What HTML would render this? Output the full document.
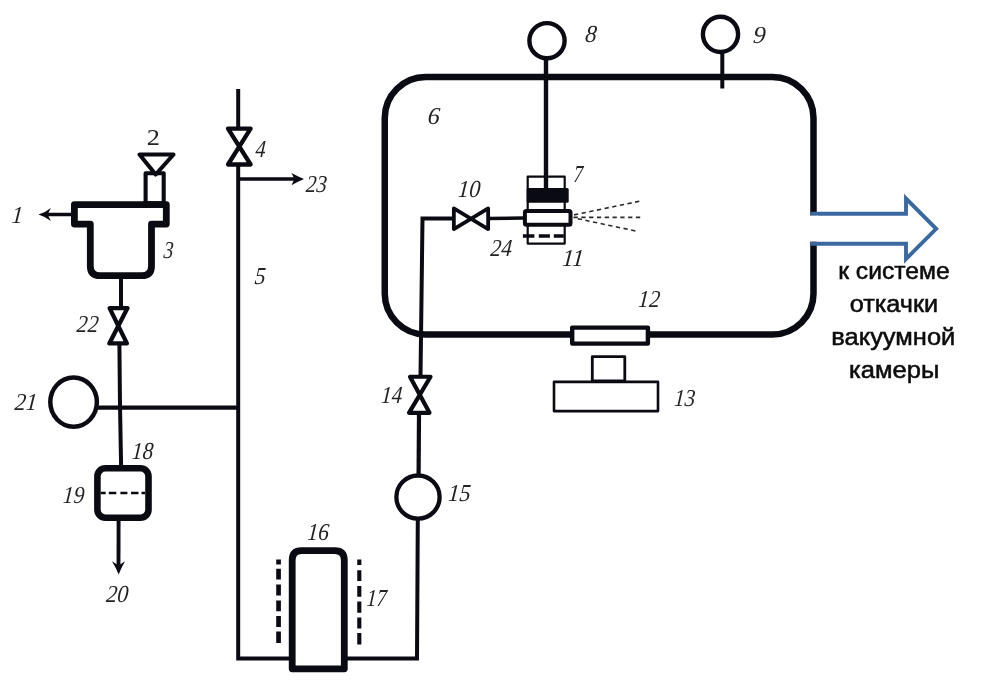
<!DOCTYPE html>
<html><head><meta charset="utf-8">
<style>
html,body{margin:0;padding:0;background:#fff;width:982px;height:694px;overflow:hidden}
svg{display:block;will-change:transform}
.l{font-family:"Liberation Serif",serif;font-style:italic;font-size:24.3px;fill:#222}
.r{font-family:"Liberation Sans",sans-serif;font-size:24.6px;fill:#0c0c0c;stroke:#0c0c0c;stroke-width:0.55px;text-anchor:middle}
</style></head>
<body>
<svg width="982" height="694" viewBox="0 0 982 694">
<g fill="none" stroke="#0a0a12" stroke-linecap="butt" stroke-linejoin="round">
  <!-- chamber -->
  <rect x="384.75" y="77" width="428.75" height="257.5" rx="41" ry="41" stroke-width="6.5"/>
  <!-- gauge 8 -->
  <circle cx="547" cy="40.7" r="17.6" stroke-width="4.4"/>
  <line x1="546" y1="58" x2="546" y2="189" stroke-width="4.4"/>
  <!-- gauge 9 -->
  <circle cx="720.5" cy="34.35" r="17.6" stroke-width="4.4"/>
  <line x1="722.3" y1="51" x2="722.3" y2="88.5" stroke-width="4"/>
  <!-- device 7/11 -->
  <rect x="527.7" y="176.6" width="37" height="67" stroke-width="2.2"/>
  <rect x="526.7" y="188" width="42" height="14.8" rx="1.5" fill="#0a0a12" stroke="none"/>
  <rect x="524.9" y="211" width="45.6" height="13.7" rx="1.5" stroke-width="4" fill="#fff"/>
  <line x1="522.9" y1="236" x2="564" y2="236" stroke-width="3.6" stroke-dasharray="11.5 4.4 11.1 3.9 10"/>
  <!-- spray -->
  <g stroke-width="1.6" stroke-dasharray="4.3 3.5" stroke="#2a2a2a">
    <line x1="574" y1="214.9" x2="640.5" y2="201"/>
    <line x1="573.5" y1="217.4" x2="642.2" y2="217.4"/>
    <line x1="574" y1="217.9" x2="638.6" y2="231.6" stroke-dashoffset="-3.8"/>
  </g>
  <!-- pipe valve10 to ring -->
  <line x1="488" y1="218.5" x2="524" y2="218" stroke-width="3.6"/>
  <!-- valve 10 -->
  <path d="M453.85 208.4 L488.15 229.1 L488.15 208.4 L453.85 229.1 Z" stroke-width="3.8"/>
  <!-- pipe from valve 10 down -->
  <path d="M453.85 218.5 H422.5 L420.5 377" stroke-width="4" stroke-linejoin="miter"/>
  <!-- valve 14 -->
  <path d="M410 376.75 H430.5 L409 412.8 H429.5 Z" stroke-width="4.2"/>
  <line x1="419" y1="412.8" x2="418.6" y2="474" stroke-width="4.2"/>
  <!-- gauge 15 -->
  <circle cx="418" cy="497.1" r="21.6" stroke-width="4.3"/>
  <!-- bottom loop -->
  <path d="M417.8 519 L417 658.6 H238.2 V164.5" stroke-width="4" stroke-linejoin="miter"/>
  <line x1="238.2" y1="89" x2="238.2" y2="128.6" stroke-width="4"/>
  <!-- tank 16 -->
  <path d="M292.2 668.8 V560 Q292.2 550.6 301.6 550.6 H334.8 Q344.3 550.6 344.3 560 V668.8 Z" stroke-width="6.8" fill="#fff" stroke-linejoin="round"/>
  <!-- dashes 17 -->
  <path d="M278.55 559.4 V564.4 M278.55 568.7 V579.5 M278.55 584.6 V595.4 M278.55 600.4 V611.2 M278.55 616 V627 M278.55 631.4 V642.9" stroke-width="4.7"/>
  <path d="M359.3 559.4 V565.1 M359.3 570.2 V581 M359.3 586 V596.8 M359.3 601.6 V612.7 M359.3 617.4 V628.5 M359.3 632.9 V644.4" stroke-width="4.1"/>
  <!-- valve 4 -->
  <path d="M228 128.65 H250.6 L228 164.5 H250.6 Z" stroke-width="4.3"/>
  <!-- arrow 23 -->
  <line x1="238" y1="179" x2="296" y2="179" stroke-width="3.7"/>
  <path d="M304 178.9 Q297.5 176.3 291.5 172.9 L294.4 178.9 L291.5 185.2 Q297.5 181.6 304 178.9 Z" fill="#0a0a12" stroke="none"/>
  <!-- gauge 21 + pipe -->
  <ellipse cx="73.6" cy="402.1" rx="23.3" ry="24.6" stroke-width="4.5"/>
  <line x1="97" y1="407.7" x2="238" y2="407.7" stroke-width="4.2"/>
  <!-- pipe 22 line -->
  <path d="M121 278 V308" stroke-width="4"/>
  <path d="M109.6 308.1 H127.5 L109.3 343.4 H126.9 Z" stroke-width="4.3"/>
  <path d="M119.4 343.4 L120 405 L121.1 466" stroke-width="4"/>
  <!-- filter 19 -->
  <rect x="97.4" y="468.2" width="51.1" height="49.5" rx="8" stroke-width="6.6" fill="#fff"/>
  <line x1="100.7" y1="493" x2="145" y2="493" stroke-width="2.5" stroke-dasharray="5 3.1 7.5 4.1 7 3.6 7.5 3 3.5"/>
  <line x1="118.6" y1="520" x2="118.5" y2="566" stroke-width="3.9"/>
  <path d="M118.7 574.4 Q115.8 567.6 112 561.3 L118.6 565.5 L125 561.3 Q121.4 567.6 118.7 574.4 Z" fill="#0a0a12" stroke="none"/>
  <!-- component 3 -->
  <path d="M74.4 204.6 H166.3 V224.1 H151.5 V266 Q151.5 275.7 141.8 275.7 H100 Q90.3 275.7 90.3 266 V224.1 H74.4 Z" stroke-width="6.8" fill="#fff" stroke-linejoin="round"/>
  <!-- arrow 1 -->
  <line x1="72" y1="214.4" x2="46" y2="214.6" stroke-width="3.5"/>
  <path d="M38.5 214.6 Q45 212.6 50.9 207.9 L47.6 214.5 L50.9 221.1 Q45 216.6 38.5 214.6 Z" fill="#0a0a12" stroke="none"/>
  <!-- component 2 -->
  <rect x="145.6" y="173.2" width="18.1" height="30" stroke-width="4.1"/>
  <path d="M139.5 154.5 H173.5 L155.7 174.5 Z" stroke-width="4.1" fill="#fff"/>
  <!-- window 12 -->
  <rect x="572.2" y="327.6" width="75.7" height="16" stroke-width="4.4" fill="#fff"/>
  <!-- box 13 -->
  <rect x="592.3" y="356.7" width="32.5" height="24.2" stroke-width="2.8"/>
  <rect x="554" y="381.9" width="104" height="29.2" stroke-width="2.6" fill="#fff"/>
</g>
<!-- big arrow -->
<path d="M810.6 213.7 H906 V198.5 L936.2 228.8 L906 259 V243.8 H810.6" fill="none" stroke="#3a69a2" stroke-width="3.9" stroke-linejoin="miter"/>
<rect x="808" y="215.6" width="10" height="26" fill="#fff"/>
<!-- labels -->
<g class="l">
  <text transform="translate(11.21 223.00) scale(0.926 1) skewX(-5)">1</text>
  <text transform="translate(146.79 144.80) scale(1.171 1)" style="font-style:normal;font-size:22.5px">2</text>
  <text transform="translate(163.14 258.30) scale(0.808 1) skewX(-5)">3</text>
  <text transform="translate(255.05 156.80) scale(0.844 1) skewX(-5)">4</text>
  <text transform="translate(254.27 284.40) scale(0.900 1) skewX(-5)">5</text>
  <text transform="translate(427.24 123.60) scale(0.993 1) skewX(-5)">6</text>
  <text transform="translate(573.30 182.10) scale(0.762 1) skewX(-5)">7</text>
  <text transform="translate(584.85 41.50) scale(0.942 1) skewX(-5)">8</text>
  <text transform="translate(752.47 43.00) scale(1.034 1) skewX(-5)">9</text>
  <text transform="translate(457.57 196.80) scale(0.915 1) skewX(-5)">10</text>
  <text transform="translate(561.85 266.00) scale(0.958 1) skewX(-5)">11</text>
  <text transform="translate(637.86 307.40) scale(0.894 1) skewX(-5)">12</text>
  <text transform="translate(673.74 405.60) scale(0.868 1) skewX(-5)">13</text>
  <text transform="translate(380.67 403.10) scale(0.867 1) skewX(-5)">14</text>
  <text transform="translate(447.71 500.80) scale(0.922 1) skewX(-5)">15</text>
  <text transform="translate(307.07 539.80) scale(0.886 1) skewX(-5)">16</text>
  <text transform="translate(366.35 606.00) scale(0.822 1) skewX(-5)">17</text>
  <text transform="translate(131.62 458.50) scale(0.871 1) skewX(-5)">18</text>
  <text transform="translate(62.52 503.40) scale(0.878 1) skewX(-5)">19</text>
  <text transform="translate(105.67 601.80) scale(0.913 1) skewX(-5)">20</text>
  <text transform="translate(14.19 410.00) scale(0.930 1) skewX(-5)">21</text>
  <text transform="translate(76.27 331.80) scale(0.900 1) skewX(-5)">22</text>
  <text transform="translate(305.53 191.50) scale(0.865 1) skewX(-5)">23</text>
  <text transform="translate(489.94 256.20) scale(0.890 1) skewX(-5)">24</text>
</g>
<g class="r">
  <text transform="translate(893.90 279.00) scale(1.002 1)">к системе</text>
  <text transform="translate(893.90 311.80) scale(1.026 1)">откачки</text>
  <text transform="translate(893.28 344.80) scale(1.036 1)">вакуумной</text>
  <text transform="translate(894.20 378.00) scale(1.038 1)">камеры</text>
</g>
</svg>
</body></html>
